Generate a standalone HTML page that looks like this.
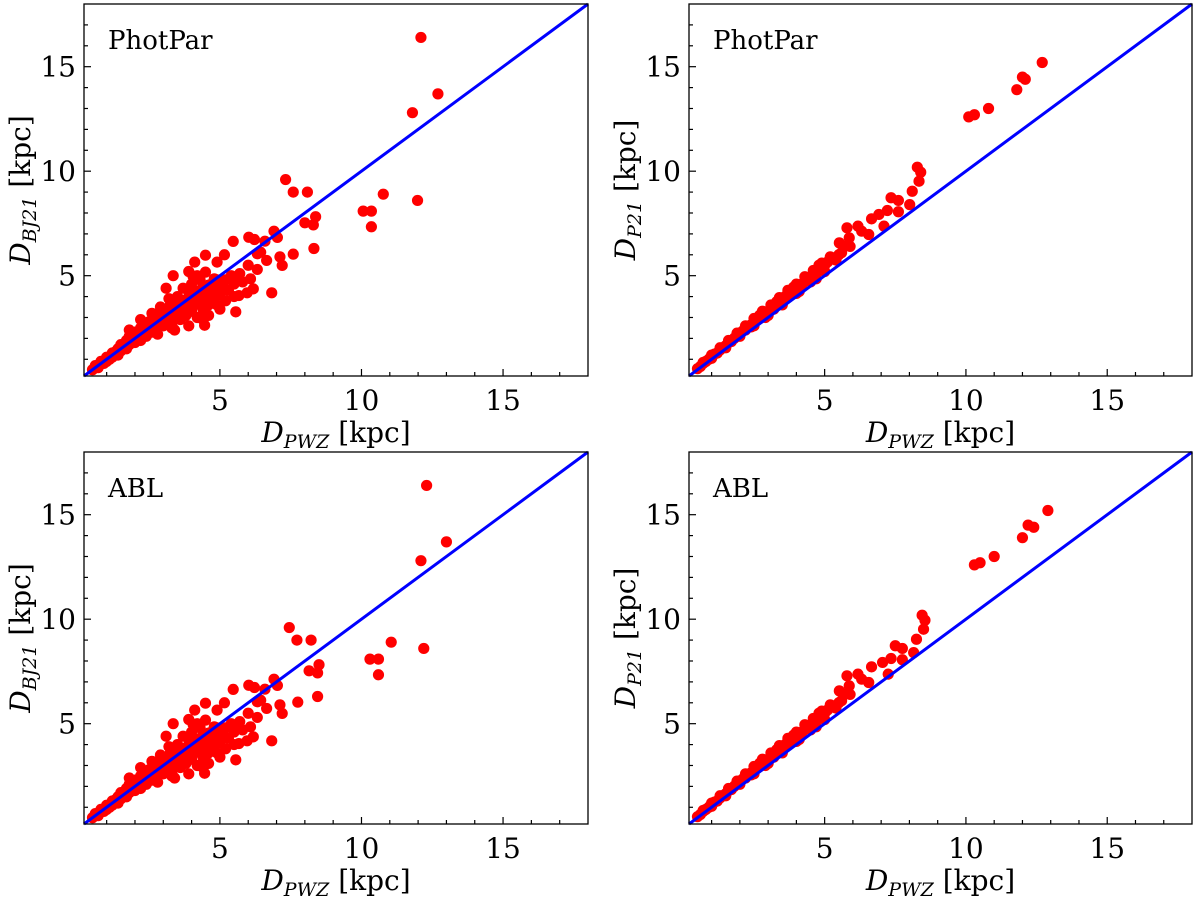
<!DOCTYPE html>
<html><head><meta charset="utf-8"><style>
html,body{margin:0;padding:0;background:#fff}
svg text{font-family:"DejaVu Serif","Liberation Serif",serif;fill:#000}
</style></head><body>
<svg id="fig" width="1200" height="899" viewBox="0 0 1200 899" xmlns="http://www.w3.org/2000/svg"></svg>
<script>
// ---- data ----
const xTicks=[5,10,15];
const yTicks=[5,10,15];
const coreBJx=[0.5,0.6,0.7,0.8,0.9,1.0,1.0,1.1,1.2,1.2,1.3,1.4,1.4,1.5,1.5,1.6,1.7,1.7,1.8,1.8,1.9,2.0,2.0,2.1,2.2,2.2,2.3,2.4,2.4,2.5,2.5,2.6,2.7,2.7,2.8,2.8,2.9,3.0,3.0,3.1,3.1,3.2,3.2,3.3,3.3,3.4,3.4,3.5,3.5,3.6,3.6,3.7,3.7,3.8,3.8,3.9,3.9,4.0,4.0,4.1,4.1,4.2,4.2,4.3,4.3,4.4,4.4,4.5,4.5,4.6,4.6,4.7,4.7,4.8,4.8,4.9,5.0,5.0,5.2,5.3,5.4,5.5,5.7,5.8,6.0,1.8,2.2,2.6,2.9,3.2,3.1,3.5,3.7,4.0,4.2,3.9,4.3,2.8,3.4,3.9,4.4,4.6,3.3,4.9,5.2,5.5,5.0,3.35,4.05,4.49,4.11,4.9,4.49,5.16,5.47,6.02,6.22,6.32,6.44,6.59,6.65,6.08,6.18,5.96,5.67,5.56,4.46,6.83,7.2,7.12,6.91,7.03,6.32,
 1.3,1.6,1.9,2.1,2.3,2.6,2.8,3.0,3.2,3.4,3.6,3.8,4.0,4.2,4.4,4.6,4.8,2.0,2.4,2.8,3.2,3.6,4.0,4.4,4.8,3.0,3.5,4.1,4.5,2.5,3.6,4.3,5.1,5.6,3.9,4.7];
const coreBJy=[0.5,0.7,0.6,0.9,0.8,1.1,0.9,1.0,1.3,1.1,1.2,1.5,1.2,1.4,1.7,1.5,1.9,1.5,1.7,2.1,1.8,2.3,1.8,2.0,2.5,1.9,2.2,2.6,2.1,2.4,2.8,2.3,2.9,2.5,2.6,3.1,2.7,3.0,2.6,3.3,2.8,3.0,3.5,3.1,2.7,3.4,3.0,3.6,3.2,3.4,2.9,3.8,3.3,3.6,3.1,4.0,3.5,3.8,3.3,4.2,3.6,3.9,3.0,4.3,3.7,4.0,3.4,4.5,3.9,4.2,3.6,4.6,4.0,4.4,3.8,4.8,4.5,4.1,4.8,4.3,5.0,4.6,5.1,4.7,5.5,2.4,2.9,3.2,3.5,3.9,4.4,4.0,4.4,4.6,5.0,5.2,4.8,2.2,2.4,2.6,2.9,3.1,2.5,3.6,3.8,4.0,3.4,5.0,4.98,5.17,5.65,5.65,5.98,6.0,6.64,6.84,6.73,6.05,6.12,6.65,5.73,4.85,4.37,4.18,4.05,3.27,2.63,4.18,5.49,5.9,7.13,6.83,5.3,
 1.35,1.55,1.95,2.05,2.35,2.55,2.85,2.95,3.25,3.35,3.65,3.75,4.05,4.15,4.45,4.55,4.85,2.15,2.3,2.7,3.3,3.5,3.9,4.3,4.6,3.2,3.45,3.9,4.2,2.65,3.85,4.05,4.6,4.9,4.3,4.3];
const outBJx_phot=[7.32,7.59,8.09,8.0,8.3,8.38,8.32,7.59,10.77,11.98,10.06,10.35,10.35,12.1,12.7,11.8];
const outBJx_abl=[7.45,7.72,8.22,8.15,8.45,8.5,8.45,7.75,11.05,12.2,10.3,10.6,10.6,12.3,13.0,12.1];
const outBJy=[9.6,9.0,9.0,7.53,7.43,7.82,6.3,6.03,8.9,8.6,8.09,8.09,7.34,16.4,13.7,12.8];
const coreP21x=[0.5,0.6,0.7,0.8,0.9,1.0,1.1,1.2,1.3,1.4,1.5,1.6,1.7,1.8,1.9,2.0,2.1,2.2,2.3,2.4,2.5,2.6,2.7,2.8,2.9,3.0,3.1,3.2,3.3,3.4,3.5,3.6,3.7,3.8,3.9,4.0,4.1,4.2,4.3,4.4,4.5,4.6,4.7,4.8,4.9,5.0,5.1,5.3,5.5,1.0,1.5,2.0,2.5,3.0,3.5,4.0,4.5,5.0,2.7,3.3,3.9,4.4,4.8,3.2,3.7,4.2,5.2,5.52,5.7,5.87,5.79,6.18,6.31,6.56,6.66,
 0.7,1.0,1.3,1.6,1.9,2.2,2.5,2.8,3.1,3.4,3.7,4.0,4.3,4.6,4.9,5.2,2.4,2.9,3.5,4.1,4.7,5.4,5.6,5.9];
const coreP21y=[0.55,0.65,0.8,0.9,1.0,1.1,1.25,1.3,1.45,1.55,1.65,1.8,1.85,2.0,2.1,2.2,2.35,2.4,2.55,2.65,2.75,2.9,2.95,3.1,3.2,3.3,3.45,3.5,3.65,3.75,3.85,4.0,4.05,4.2,4.3,4.4,4.55,4.6,4.75,4.85,4.95,5.1,5.15,5.3,5.4,5.5,5.65,5.8,6.0,1.05,1.55,2.1,2.6,3.1,3.65,4.15,4.7,5.2,3.1,3.75,4.45,4.9,5.5,3.4,4.0,4.6,5.8,6.57,6.41,6.81,7.29,7.37,7.13,6.97,7.72,
 0.85,1.2,1.55,1.9,2.25,2.6,2.95,3.3,3.6,3.95,4.3,4.6,4.95,5.25,5.6,5.9,2.55,3.0,3.6,4.25,4.85,5.75,6.1,6.4];
const outP21x_phot=[8.28,8.4,8.34,8.1,8.01,7.61,7.35,7.61,7.22,6.92,7.1,10.1,10.3,10.8,11.8,12.0,12.1,12.7];
const outP21x_abl=[8.45,8.55,8.5,8.25,8.15,7.75,7.5,7.75,7.35,7.05,7.25,10.3,10.5,11.0,12.0,12.2,12.4,12.9];
const outP21y=[10.19,9.95,9.52,9.04,8.4,8.06,8.73,8.6,8.12,7.93,7.37,12.6,12.7,13.0,13.9,14.5,14.4,15.2];
const panelLabels=["PhotPar","PhotPar","ABL","ABL"];

const NS="http://www.w3.org/2000/svg";
const svg=document.getElementById('fig');
function mk(tag,attrs,parent){const e=document.createElementNS(NS,tag);for(const k in attrs)e.setAttribute(k,attrs[k]);(parent||svg).appendChild(e);return e;}
const VMIN=0.2,VMAX=18;
const panels=[
 {x0:84,x1:588,y0:4,y1:376,xs:coreBJx.concat(outBJx_phot),ys:coreBJy.concat(outBJy),yl:"BJ21",name:"top-left"},
 {x0:689,x1:1192,y0:4,y1:376,xs:coreP21x.concat(outP21x_phot),ys:coreP21y.concat(outP21y),yl:"P21",name:"top-right"},
 {x0:84,x1:588,y0:452,y1:824,xs:coreBJx.concat(outBJx_abl),ys:coreBJy.concat(outBJy),yl:"BJ21",name:"bottom-left"},
 {x0:689,x1:1192,y0:452,y1:824,xs:coreP21x.concat(outP21x_abl),ys:coreP21y.concat(outP21y),yl:"P21",name:"bottom-right"}
];
panels.forEach((p,i)=>{
 const g=mk('g',{});
 
 
 const sx=v=>p.x0+(v-VMIN)/(VMAX-VMIN)*(p.x1-p.x0);
 const sy=v=>p.y1-(v-VMIN)/(VMAX-VMIN)*(p.y1-p.y0);
 const pts=mk('g',{},g);
 
 
 for(let k=0;k<p.xs.length;k++){
  const c=mk('circle',{cx:sx(p.xs[k]),cy:sy(p.ys[k]),r:5.6,fill:'#ff0000'},pts);
  
  
 }
 const ln=mk('line',{x1:sx(VMIN),y1:sy(VMIN),x2:sx(VMAX),y2:sy(VMAX),stroke:'#0000ff','stroke-width':3},g);
 
 
 const fr=mk('rect',{x:p.x0,y:p.y0,width:p.x1-p.x0,height:p.y1-p.y0,fill:'none',stroke:'#000','stroke-width':1.3},g);
 
 
 for(let v=1;v<=17;v++){
  const major=v%5===0, L=major?7:4;
  mk('line',{x1:sx(v),y1:p.y1,x2:sx(v),y2:p.y1-L,stroke:'#000','stroke-width':1.2},g);
  mk('line',{x1:p.x0,y1:sy(v),x2:p.x0+L,y2:sy(v),stroke:'#000','stroke-width':1.2},g);
 }
 xTicks.forEach(v=>{const t=mk('text',{x:sx(v),y:p.y1+34,'font-size':28,'text-anchor':'middle'},g);t.textContent=v;
  
  });
 yTicks.forEach(v=>{const t=mk('text',{x:p.x0-8,y:sy(v)+10,'font-size':28,'text-anchor':'end'},g);t.textContent=v;
  
  });
 const xl=mk('text',{x:(p.x0+p.x1)/2,y:p.y1+66,'font-size':28,'text-anchor':'middle'},g);
 xl.innerHTML='<tspan font-style="italic">D</tspan><tspan font-style="italic" font-size="19" dy="6">PWZ</tspan><tspan dy="-6"> [kpc]</tspan>';
 
 
 const cy=(p.y0+p.y1)/2;
 const yl=mk('text',{x:0,y:0,'font-size':28,'text-anchor':'middle',transform:`translate(${p.x0-54},${cy}) rotate(-90)`},g);
 yl.innerHTML='<tspan font-style="italic">D</tspan><tspan font-style="italic" font-size="19" dy="6">'+p.yl+'</tspan><tspan dy="-6"> [kpc]</tspan>';
 
 
 const pl=mk('text',{x:p.x0+24,y:p.y0+45,'font-size':26},g);
 pl.textContent=panelLabels[i];
 
 
});
</script>
</body></html>
